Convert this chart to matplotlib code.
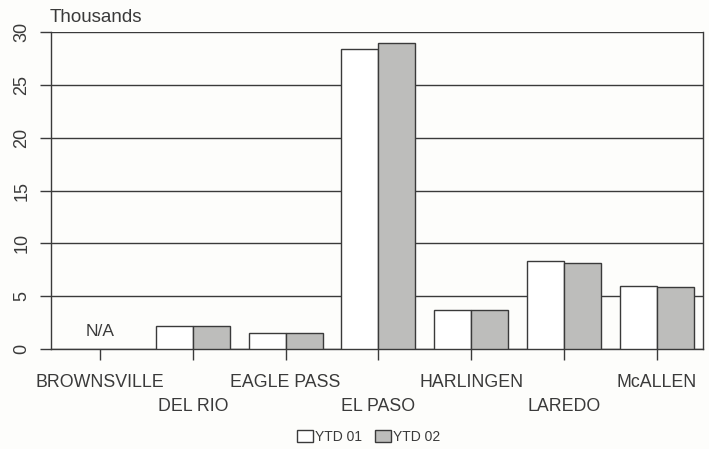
"""Border crossings chart, YTD 01 vs YTD 02 (thousands)."""
import matplotlib
matplotlib.use("Agg")
import matplotlib.pyplot as plt
import numpy as np
from matplotlib.patches import Patch

# Data
ports = ["BROWNSVILLE", "DEL RIO", "EAGLE PASS", "EL PASO",
         "HARLINGEN", "LAREDO", "McALLEN"]
ytd01 = [np.nan, 2.2, 1.5, 28.4, 3.7, 8.3, 6.0]
ytd02 = [np.nan, 2.2, 1.5, 29.0, 3.7, 8.1, 5.9]
yticks = [0, 5, 10, 15, 20, 25, 30]

INK = "#3a3a3a"
GRAY = "#bdbdbb"
plt.rcParams["font.family"] = ["Liberation Sans", "DejaVu Sans"]

fig = plt.figure(figsize=(7.09, 4.49), dpi=100)
fig.patch.set_facecolor("#fdfdfb")
ax = fig.add_axes([0.072, 0.2227, 0.9195, 0.706])
ax.set_facecolor("#fdfdfb")

x = np.arange(len(ports))
w = 0.4
ax.bar(x - w / 2, ytd01, w, color="white", edgecolor=INK, linewidth=1.0, zorder=3)
ax.bar(x + w / 2, ytd02, w, color=GRAY, edgecolor=INK, linewidth=1.0, zorder=3)

ax.set_xlim(-0.53, 6.5)
ax.set_ylim(0, 30)
ax.set_yticks(yticks)
ax.set_yticklabels([str(t) for t in yticks], rotation=90, va="center",
                   fontsize=13, color=INK)
for t in yticks:
    ax.axhline(t, color=INK, linewidth=1.0, zorder=1)
ax.tick_params(axis="y", length=8, width=1.0, color=INK, pad=7)

ax.set_xticks(x)
ax.set_xticklabels([])
ax.tick_params(axis="x", length=8, width=1.0, color=INK, direction="out")
for i, name in enumerate(ports):
    yoff = -0.105 if i % 2 == 0 else -0.182
    ax.text(i, yoff, name, transform=ax.get_xaxis_transform(), ha="center",
            va="center", fontsize=12.8, color=INK)

ax.spines["top"].set_visible(False)
for side in ["left", "right", "bottom"]:
    ax.spines[side].set_color(INK)
    ax.spines[side].set_linewidth(1.0)

ax.text(0, 1.7, "N/A", ha="center", va="center", fontsize=12.5, color=INK)
fig.text(0.07, 0.962, "Thousands", ha="left", va="center", fontsize=13.5, color=INK)

handles = [Patch(facecolor="white", edgecolor=INK, label="YTD 01"),
           Patch(facecolor=GRAY, edgecolor=INK, label="YTD 02")]
fig.legend(handles=handles, loc="center", bbox_to_anchor=(0.52, 0.027), ncol=2,
           frameon=False, fontsize=10, handlelength=1.1, handleheight=0.9,
           handletextpad=0.15, columnspacing=1.0, labelcolor=INK)

fig.savefig("out.png", dpi=100, facecolor=fig.get_facecolor())
